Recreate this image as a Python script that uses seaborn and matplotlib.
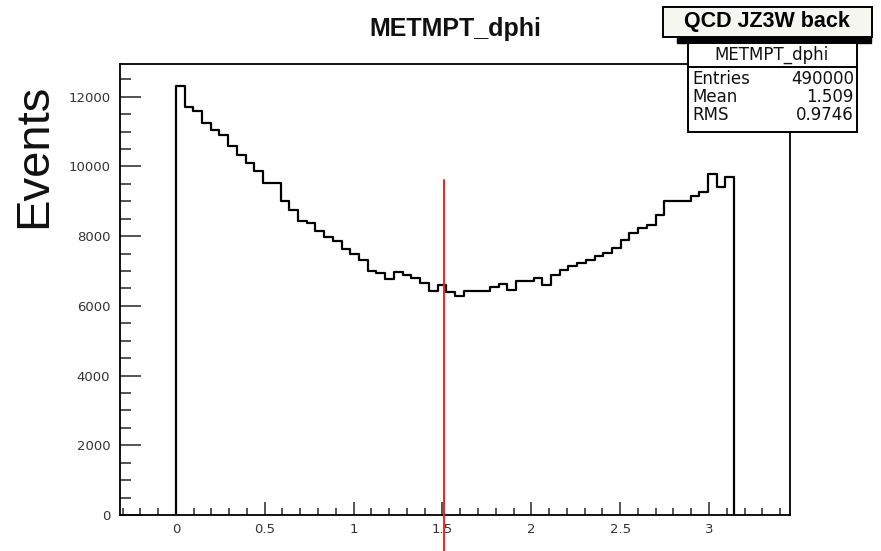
import numpy as np
import pandas as pd
import matplotlib
matplotlib.use("Agg")
import matplotlib.pyplot as plt
import seaborn as sns
from matplotlib.patches import Rectangle
from matplotlib.ticker import MultipleLocator

# ---------------- data ----------------
hist_title = "METMPT_dphi"
legend_label = "QCD JZ3W back"
y_label = "Events"
n_bins = 64
x_min, x_max = 0.0, np.pi
counts = [12300, 11720, 11580, 11250, 11050, 10900, 10600, 10340, 10100, 9880,
          9520, 9520, 9000, 8760, 8440, 8370, 8140, 7990, 7850, 7640,
          7490, 7320, 7000, 6940, 6770, 6960, 6900, 6800, 6650, 6430,
          6600, 6400, 6270, 6440, 6440, 6440, 6540, 6630, 6460, 6700,
          6720, 6800, 6600, 6890, 7030, 7130, 7230, 7320, 7420, 7520,
          7660, 7900, 8100, 8230, 8330, 8610, 9000, 9000, 9000, 9140,
          9280, 9790, 9410, 9700]
stat_names = ["Entries", "Mean", "RMS"]
stat_values = ["490000", "1.509", "0.9746"]
mean_value = 1.509
mean_line_top = 9620
x_ticks = [0, 0.5, 1, 1.5, 2, 2.5, 3]
x_tick_labels = ["0", "0.5", "1", "1.5", "2", "2.5", "3"]
y_ticks = [0, 2000, 4000, 6000, 8000, 10000, 12000]
y_tick_labels = ["0", "2000", "4000", "6000", "8000", "10000", "12000"]

edges = np.linspace(x_min, x_max, n_bins + 1)
centers = 0.5 * (edges[:-1] + edges[1:])
df = pd.DataFrame({"dphi": centers, "w": counts})

# ---------------- figure ----------------
sns.set_style("white")
plt.rcParams["font.family"] = ["Liberation Sans", "DejaVu Sans"]

W, H = 881, 551
fig = plt.figure(figsize=(W / 100, H / 100), dpi=100)
fig.patch.set_facecolor("white")

def fx(px):
    return px / W

def fy(py):
    return 1 - py / H

ax_l, ax_r, ax_t, ax_b = 120, 790, 64, 515
ax = fig.add_axes([fx(ax_l), fy(ax_b), fx(ax_r - ax_l), (ax_b - ax_t) / H])

sns.histplot(data=df, x="dphi", weights="w", bins=list(edges), element="step",
             fill=False, color="black", linewidth=1.6, ax=ax)
ax.vlines([edges[0], edges[-1]], 0, [counts[0], counts[-1]],
          color="black", linewidth=1.6)

ax.plot([mean_value, mean_value], [-1200, mean_line_top], color="#ff1a1a",
        linewidth=1.4, clip_on=False, zorder=5)

ax.set_xlim(-0.1 * np.pi, 1.1 * np.pi)
ax.set_ylim(0, 12940)
ax.set_xlabel("")
ax.set_ylabel("")

ax.set_xticks(x_ticks)
ax.set_xticklabels(x_tick_labels)
ax.set_yticks(y_ticks)
ax.set_yticklabels(y_tick_labels)
ax.xaxis.set_minor_locator(MultipleLocator(0.1))
ax.yaxis.set_minor_locator(MultipleLocator(500))

for side in ["left", "bottom", "top", "right"]:
    ax.spines[side].set_visible(True)
    ax.spines[side].set_color("black")
    ax.spines[side].set_linewidth(1.3)

ax.tick_params(axis="x", which="major", direction="in", length=9.5, width=1.1,
               pad=6, labelsize=9.5, labelcolor="#333333", top=False, bottom=True)
ax.tick_params(axis="x", which="minor", direction="in", length=5, width=1.1,
               top=False, bottom=True)
ax.tick_params(axis="y", which="major", direction="in", length=15, width=1.1,
               pad=7, labelsize=9.5, labelcolor="#333333", left=True, right=False)
ax.tick_params(axis="y", which="minor", direction="in", length=8, width=1.1,
               left=True, right=False)
for lbl in ax.get_xticklabels() + ax.get_yticklabels():
    lbl.set_family(["DejaVu Sans"])

# title
fig.text(fx(455), fy(29), hist_title, ha="center", va="center",
         fontsize=18, fontweight="bold", color="#111111")

# y label
fig.text(fx(34), fy(156), y_label, ha="center", va="center", rotation=90,
         fontsize=34, color="#111111")

# legend box with shadow
fig.patches.append(Rectangle((fx(677), fy(43)), fx(871 - 677), (43 - 30) / H,
                             transform=fig.transFigure, facecolor="black",
                             edgecolor="black", zorder=10))
fig.patches.append(Rectangle((fx(663), fy(37)), fx(872 - 663), (37 - 7) / H,
                             transform=fig.transFigure, facecolor="#f6f6f0",
                             edgecolor="black", linewidth=1.4, zorder=11))
fig.text(fx(767), fy(22), legend_label, ha="center", va="center",
         fontsize=15.5, fontweight="bold", color="black", zorder=12)

# stat box
fig.patches.append(Rectangle((fx(688), fy(132)), fx(857 - 688), (132 - 43) / H,
                             transform=fig.transFigure, facecolor="white",
                             edgecolor="black", linewidth=1.4, zorder=10))
fig.add_artist(plt.Line2D([fx(688), fx(857)], [fy(67), fy(67)],
                          transform=fig.transFigure, color="black",
                          linewidth=1.4, zorder=11))
fig.text(fx(772), fy(55), hist_title, ha="center", va="center",
         fontsize=12, color="#111111", family=["DejaVu Sans"], zorder=12)
row_y = [79, 97, 115]
for name, val, ry in zip(stat_names, stat_values, row_y):
    fig.text(fx(692), fy(ry), name, ha="left", va="center", fontsize=12,
             color="#111111", family=["DejaVu Sans"], zorder=12)
    fig.text(fx(854), fy(ry), val, ha="right", va="center", fontsize=12,
             color="#111111", family=["DejaVu Sans"], zorder=12)

fig.savefig("out.png", dpi=100)
